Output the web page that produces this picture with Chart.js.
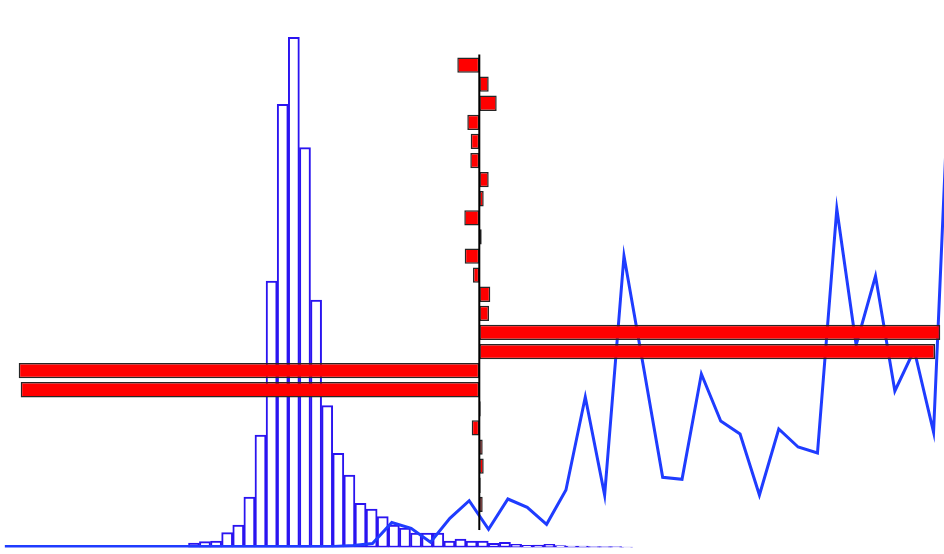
<!DOCTYPE html>
<html>
<head>
<meta charset="utf-8">
<script src="https://cdn.jsdelivr.net/npm/chart.js@4.4.1/dist/chart.umd.min.js"></script>
<style>
  html, body { margin: 0; padding: 0; background: #fff; }
  .wrap { position: relative; width: 944px; height: 554px; }
  .wrap canvas { position: absolute; left: 0; top: 0; }
</style>
</head>
<body>
<div class="wrap">
  <canvas id="hist" width="944" height="554"></canvas>
  <canvas id="line" width="944" height="554"></canvas>
  <canvas id="bars" width="944" height="554"></canvas>
</div>
<script>
// ---- Data ----
// histogram counts (40 bins)
const histBins = Array.from({ length: 40 }, (_, i) => 'b' + i);
const histCounts = [
  4.5, 5.8, 6.5, 14.8, 22.5, 50.5, 112.5, 266.5, 443.2, 510.2,
  399.8, 247.5, 141.8, 94.2, 72.5, 44.2, 38.5, 30.8, 22.5, 19.5,
  14.5, 14.5, 14.5, 6.5, 8.5, 6.5, 6.5, 4.2, 5.2, 3.2,
  2.2, 2.5, 3.2, 1.8, 1.5, 1.5, 1, 1, 0.8, 0.5
];

// line series (50 steps)
const lineSteps = Array.from({ length: 50 }, (_, i) => i);
const lineValues = [
  1, 1, 1, 1, 1, 1, 1, 1, 1, 1,
  1, 1, 1, 1, 1, 1, 1, 1, 2, 4,
  25, 19.2, 5.2, 29.2, 46.8, 18.2, 48.5, 40.2, 23.2, 57.5,
  150.5, 52.5, 291.5, 181.5, 70.2, 68.2, 173.5, 126.5, 113.5, 52.5,
  118.5, 100.5, 94.5, 338.5, 202.5, 271.5, 156.5, 197.5, 115.5, 560
];

// diverging horizontal bars (25 rows, top to bottom)
const rowLabels = Array.from({ length: 25 }, (_, i) => 'r' + i);
const rowValues = [
  -2.2, 0.94, 1.74, -1.2, -0.86, -0.9, 0.94, 0.44, -1.5, 0.24,
  -1.46, -0.63, 1.1, 0.97, 46.1, 45.57, -46.06, -45.86, 0.14, -0.76,
  0.34, 0.44, 0.14, 0.34, 0.02
];

const noAxis = { display: false };
const base = {
  responsive: false,
  animation: false,
  events: [],
  plugins: { legend: { display: false }, tooltip: { enabled: false } }
};

// ---- Histogram (bottom layer) ----
new Chart(document.getElementById('hist'), {
  type: 'bar',
  data: {
    labels: histBins,
    datasets: [{
      data: histCounts,
      backgroundColor: '#ffffff',
      borderColor: '#2a14f0',
      borderWidth: 2,
      borderSkipped: false,
      barPercentage: 1,
      categoryPercentage: 1
    }]
  },
  options: {
    ...base,
    layout: { padding: { left: 188.3, right: 311.3, top: 0, bottom: 6.5 } },
    scales: {
      x: { ...noAxis },
      y: { ...noAxis, min: 0, max: 547.5 }
    }
  }
});

// ---- Line (middle layer) ----
new Chart(document.getElementById('line'), {
  type: 'line',
  data: {
    datasets: [{
      data: lineSteps.map((s, i) => ({ x: s, y: lineValues[i] })),
      borderColor: '#1f3cff',
      borderWidth: 3,
      pointRadius: 0,
      tension: 0,
      fill: false
    }]
  },
  options: {
    ...base,
    layout: { padding: { left: 0, right: 0, top: 0, bottom: 6.5 } },
    scales: {
      x: { ...noAxis, type: 'linear', min: -0.25, max: 48.54 },
      y: { ...noAxis, min: 0, max: 547.5 }
    }
  }
});

// ---- Horizontal bars + zero line (top layer) ----
const zeroLine = {
  id: 'zeroLine',
  afterDatasetsDraw(chart) {
    const { ctx, chartArea, scales } = chart;
    const x = scales.x.getPixelForValue(0);
    ctx.save();
    ctx.strokeStyle = '#000';
    ctx.lineWidth = 2;
    ctx.beginPath();
    ctx.moveTo(x, chartArea.top - 1);
    ctx.lineTo(x, chartArea.bottom - 3);
    ctx.stroke();
    ctx.restore();
  }
};

new Chart(document.getElementById('bars'), {
  type: 'bar',
  data: {
    labels: rowLabels,
    datasets: [{
      data: rowValues,
      backgroundColor: '#ff0000',
      borderColor: '#262626',
      borderWidth: 1.5,
      borderSkipped: false,
      barPercentage: 0.8,
      categoryPercentage: 1
    }]
  },
  options: {
    ...base,
    indexAxis: 'y',
    layout: { padding: { left: 0, right: 0, top: 55.5, bottom: 21 } },
    scales: {
      x: { ...noAxis, min: -47.93, max: 46.47 },
      y: { ...noAxis }
    }
  },
  plugins: [zeroLine]
});
</script>
</body>
</html>
